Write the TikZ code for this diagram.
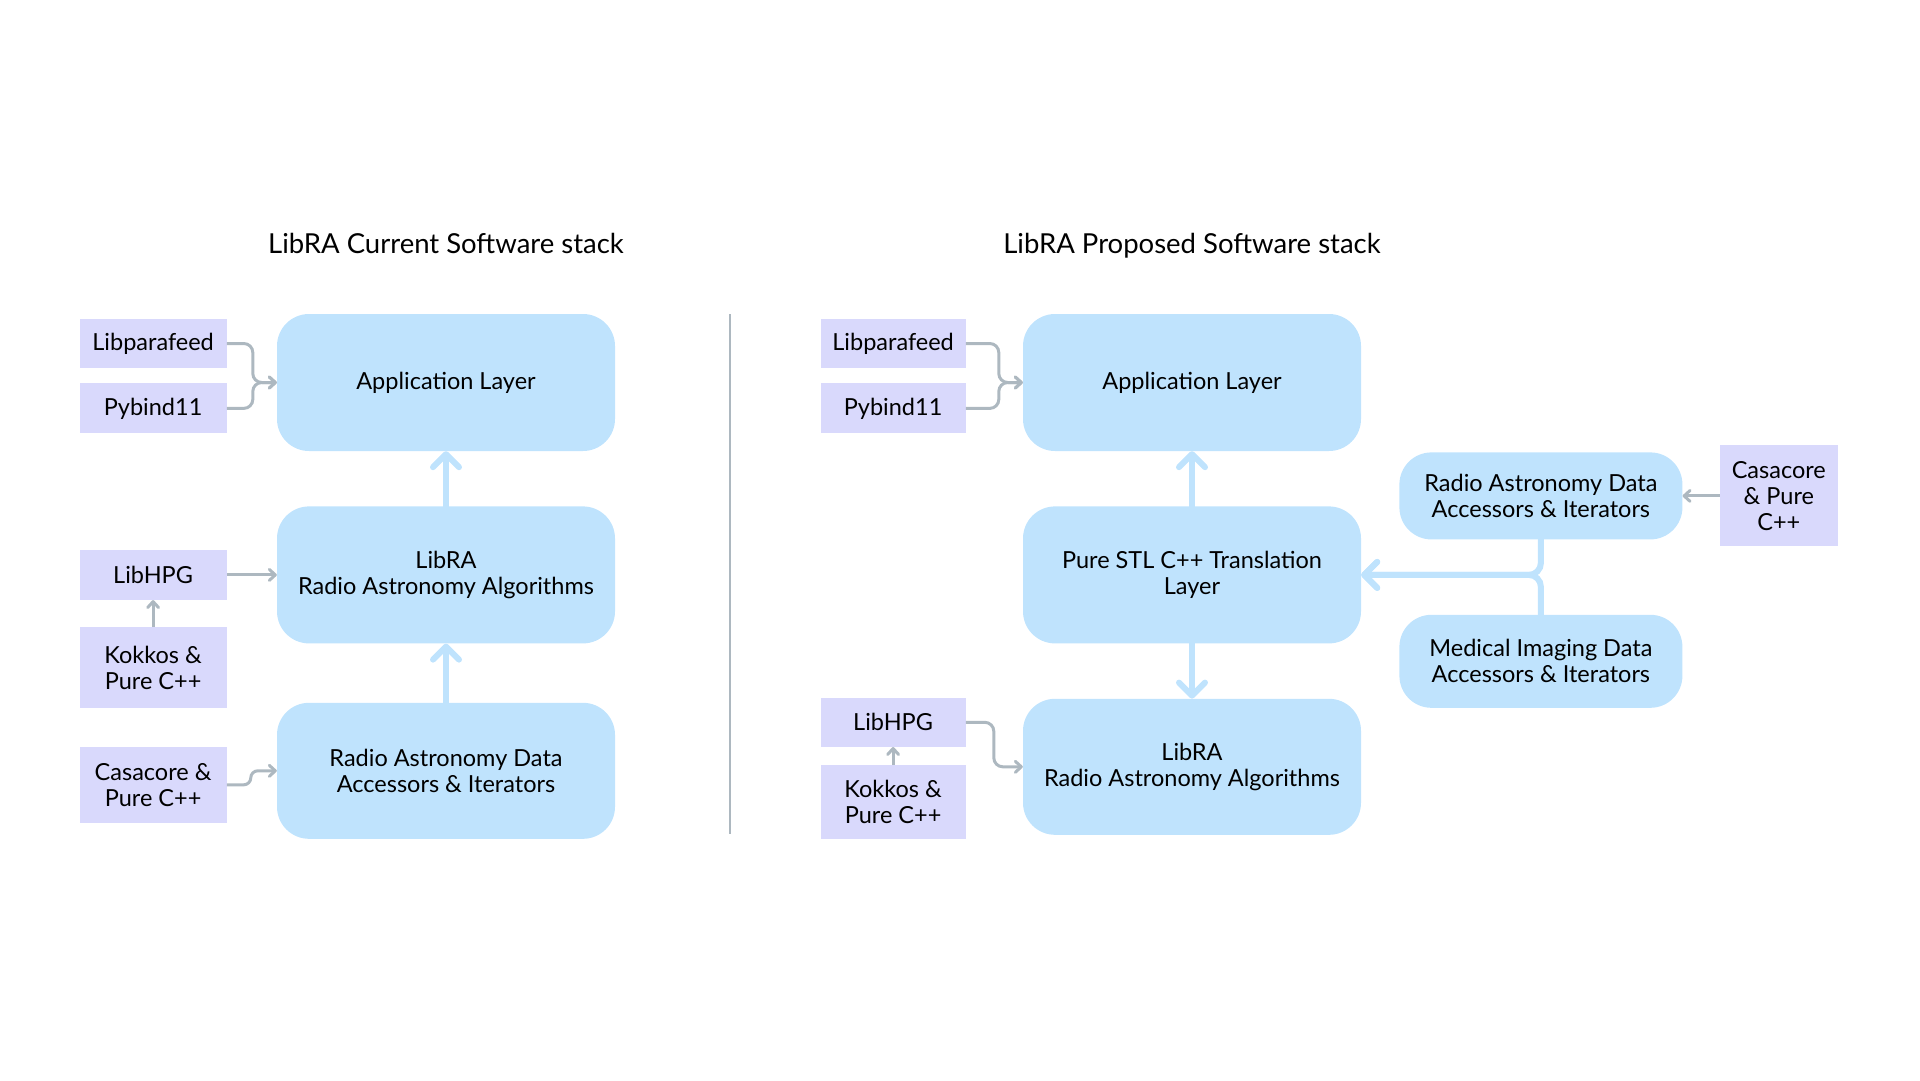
\documentclass[tikz,border=0pt]{standalone}
\usepackage{fontspec}
\setmainfont{Lato}
\usepackage{tikz}
\usetikzlibrary{positioning, arrows.meta}
\definecolor{layerblue}{HTML}{BFE3FD}
\definecolor{liblilac}{HTML}{D9D9FC}
\definecolor{linkgray}{HTML}{ADB8C0}

\begin{document}
\begin{tikzpicture}[x=1pt, y=-1pt, node distance=55pt,
  layer node/.style={rectangle, rounded corners=32pt, fill=layerblue, minimum width=338pt,
    minimum height=137pt, inner sep=0pt, align=center, font=\fontsize{23.5}{26}\selectfont},
  side node/.style={layer node, minimum width=283pt},
  lib node/.style={rectangle, fill=liblilac, minimum width=147pt, minimum height=50pt,
    inner sep=0pt, align=center, font=\fontsize{23.5}{26}\selectfont},
  title node/.style={anchor=base, font=\fontsize{27.5}{32}\selectfont},
  dep arrow/.style={draw=linkgray, line width=3pt, rounded corners=9pt,
    -{Straight Barb[round, length=6pt, width=11pt]}},
  flow arrow/.style={draw=layerblue, line width=6pt, line cap=round,
    -{Straight Barb[round, length=13pt, width=26pt]}}]

\useasboundingbox (0,0) rectangle (1920,1080);

% current stack
\node[title node] (titleL) at (446,253) {LibRA Current Software stack};
\node[layer node] (appL) at (446,382.5) {Application Layer};
\node[layer node] (libraL) [below=55pt of appL] {LibRA\\Radio Astronomy Algorithms};
\node[layer node, minimum height=136pt] (radL) [below=59pt of libraL] {Radio Astronomy Data\\Accessors \& Iterators};

\node[lib node, minimum height=49pt] (libpL) [left=50pt of appL, yshift=39pt] {Libparafeed};
\node[lib node] (pybL) [below=15pt of libpL] {Pybind11};
\node[lib node] (hpgL) [left=50pt of libraL] {LibHPG};
\node[lib node, minimum height=81pt] (kokL) [below=27pt of hpgL] {Kokkos \&\\Pure C++};
\node[lib node, minimum height=76pt] (casL) [left=50pt of radL, yshift=-14pt] {Casacore \&\\Pure C++};

\draw[dep arrow] (libpL.east) -| ([xshift=-24pt]appL.west) -- (appL.west);
\draw[dep arrow] (pybL.east) -| ([xshift=-24pt]appL.west) -- (appL.west);
\draw[dep arrow] (hpgL.east) -- (hpgL.east -| libraL.west);
\draw[dep arrow] (kokL.north) -- (hpgL.south);
\draw[dep arrow, rounded corners=7pt] (casL.east) -| ([xshift=-26pt]radL.west) -- (radL.west);

\draw[flow arrow] (radL.north) -- (libraL.south);
\draw[flow arrow] (libraL.north) -- (appL.south);

% divider
\draw[linkgray, line width=2.5pt] (730,314) -- (730,834);

% proposed stack
\node[title node] (titleR) at (1192,253) {LibRA Proposed Software stack};
\node[layer node] (appR) at (1192,382.5) {Application Layer};
\node[layer node] (stl) [below=55pt of appR] {Pure STL C++ Translation\\Layer};
\node[layer node, minimum height=136pt] (libraR) [below=55pt of stl] {LibRA\\Radio Astronomy Algorithms};

\node[lib node, minimum width=145pt, minimum height=49pt] (libpR) [left=57pt of appR, yshift=39pt] {Libparafeed};
\node[lib node, minimum width=145pt] (pybR) [below=15pt of libpR] {Pybind11};
\node[lib node, minimum width=145pt, minimum height=49pt] (hpgR) [left=57pt of libraR, yshift=44.5pt] {LibHPG};
\node[lib node, minimum width=145pt, minimum height=74pt] (kokR) [below=18pt of hpgR] {Kokkos \&\\Pure C++};

\node[side node, minimum height=87pt] (radR) [right=38pt of stl, yshift=79pt] {Radio Astronomy Data\\Accessors \& Iterators};
\node[side node, minimum height=93pt] (medR) [below=75pt of radR] {Medical Imaging Data\\Accessors \& Iterators};
\node[lib node, minimum width=118pt, minimum height=101pt] (casR) [right=37pt of radR] {Casacore\\\& Pure\\C++};

\draw[dep arrow] (libpR.east) -| ([xshift=-24pt]appR.west) -- (appR.west);
\draw[dep arrow] (pybR.east) -| ([xshift=-24pt]appR.west) -- (appR.west);
\draw[dep arrow] (hpgR.east) -| ([xshift=-29pt]libraR.west) -- (libraR.west);
\draw[dep arrow] (kokR.north) -- (hpgR.south);
\draw[dep arrow] (casR.west) -- (radR.east);

\draw[flow arrow] (stl.north) -- (appR.south);
\draw[flow arrow] (stl.south) -- (libraR.north);
\draw[flow arrow, rounded corners=12pt] (radR.south) |- (stl.east);
\draw[flow arrow, rounded corners=12pt] (medR.north) |- (stl.east);

\end{tikzpicture}
\end{document}
